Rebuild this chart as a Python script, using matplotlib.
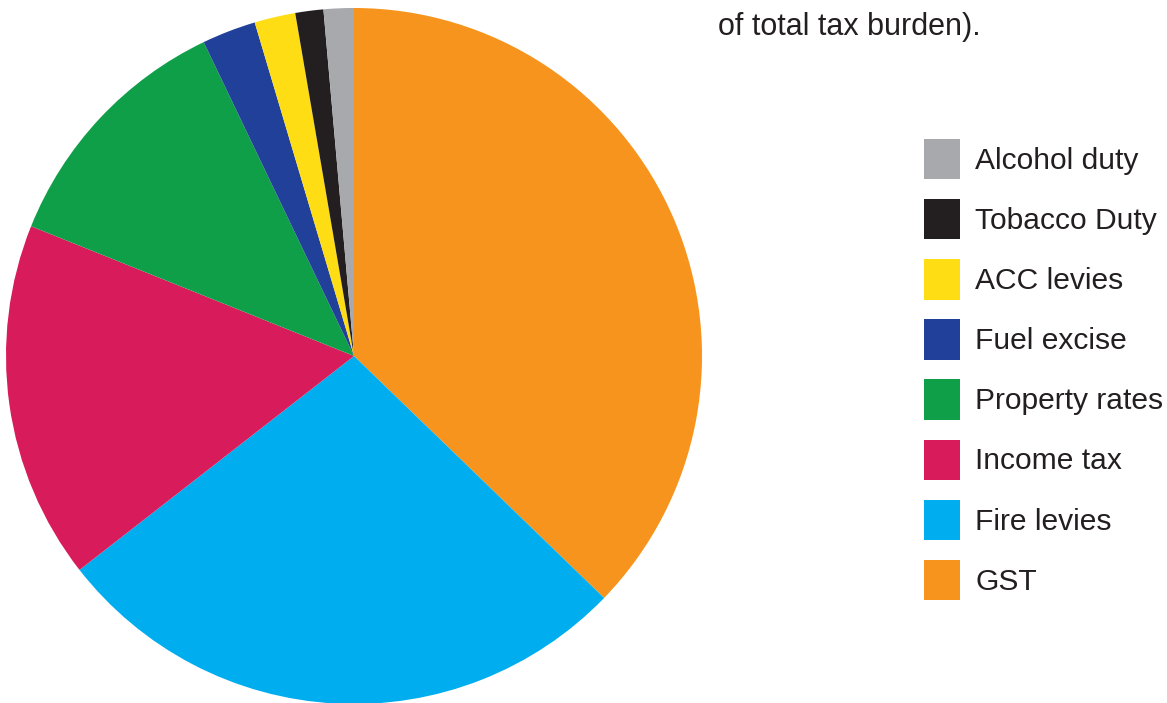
import matplotlib
matplotlib.use('Agg')
import matplotlib.pyplot as plt
from matplotlib.patches import Patch

plt.rcParams['font.family'] = ['Liberation Sans', 'DejaVu Sans']

# tax types, share of total tax burden (%)
labels = ['GST', 'Fire levies', 'Income tax', 'Property rates',
          'Fuel excise', 'ACC levies', 'Tobacco Duty', 'Alcohol duty']
shares = [37.2, 27.2, 16.6, 11.8, 2.5, 1.9, 1.3, 1.4]
colors = ['#F7941D', '#00AEEF', '#D81B5A', '#0F9F48',
          '#21409A', '#FFDD15', '#231F20', '#A7A9AC']

W, H = 1167, 703
fig = plt.figure(figsize=(W / 100, H / 100), dpi=100)

# pie centre (354, 356) px, radius 348 px
cx, cy, r = 354, 356, 348
ax = fig.add_axes([(cx - r) / W, (H - cy - r) / H, 2 * r / W, 2 * r / H])
ax.pie(shares, colors=colors, startangle=90, counterclock=False, radius=1,
       wedgeprops=dict(linewidth=0))
ax.set_xlim(-1, 1)
ax.set_ylim(-1, 1)
ax.set_aspect('equal')
ax.axis('off')

fig.text(718 / W, 1 - 35 / H, 'of total tax burden).', fontsize=22,
         color='#231F20', ha='left', va='baseline')

handles = [Patch(facecolor=c, edgecolor='none') for c in colors]
leg = fig.legend(handles[::-1], labels[::-1], loc='upper left',
                 bbox_to_anchor=(924 / W, 1 - 139 / H), frameon=False,
                 fontsize=21.6, handlelength=1.2, handleheight=1.69,
                 handletextpad=0.5, labelspacing=0.66, borderpad=0,
                 borderaxespad=0)
for t in leg.get_texts():
    t.set_color('#231F20')

fig.savefig('out.png', dpi=100)
